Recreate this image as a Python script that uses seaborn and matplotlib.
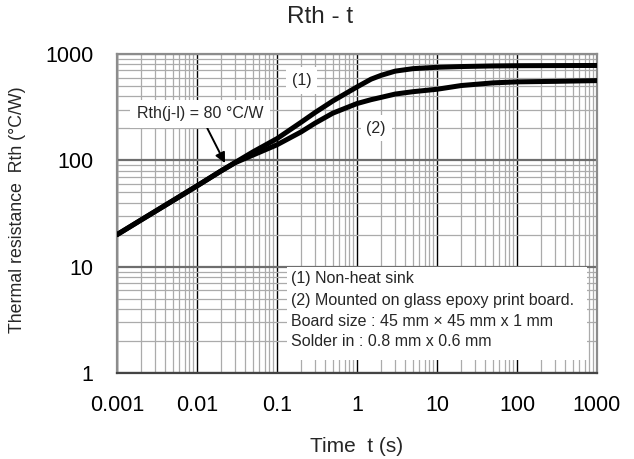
import numpy as np
import pandas as pd
import matplotlib
matplotlib.use("Agg")
import matplotlib.pyplot as plt
import seaborn as sns
from matplotlib.ticker import LogLocator, FixedLocator, FixedFormatter, NullFormatter

# values
time_s = [0.001, 0.002, 0.005, 0.01, 0.02, 0.03, 0.05, 0.1, 0.2, 0.3, 0.5,
          1, 1.5, 2, 3, 5, 10, 20, 50, 100, 300, 1000]
rth_non_heat_sink = [20, 27.5, 41.8, 57.5, 79.5, 95.5, 120, 160, 228, 282, 362,
                     490, 580, 630, 690, 728, 750, 762, 772, 776, 778, 780]
rth_glass_epoxy = [20, 27.5, 41.8, 57.5, 79.5, 95, 112, 140, 185, 224, 278,
                   342, 372, 391, 420, 442, 466, 505, 535, 547, 553, 562]

x_ticks = [0.001, 0.01, 0.1, 1, 10, 100, 1000]
x_labels = ["0.001", "0.01", "0.1", "1", "10", "100", "1000"]
y_ticks = [1, 10, 100, 1000]
y_labels = ["1", "10", "100", "1000"]

legend_lines = ["(1) Non-heat sink",
                "(2) Mounted on glass epoxy print board.",
                "Board size : 45 mm \u00d7 45 mm x 1 mm",
                "Solder in : 0.8 mm x 0.6 mm"]

df = pd.concat([
    pd.DataFrame({"t": time_s, "rth": rth_non_heat_sink, "curve": "(1)"}),
    pd.DataFrame({"t": time_s, "rth": rth_glass_epoxy, "curve": "(2)"}),
])

sns.set_style("white")
plt.rcParams["font.family"] = ["Liberation Sans", "DejaVu Sans"]

fig = plt.figure(figsize=(6.34, 4.59), dpi=100)
ax = fig.add_axes([117 / 634, 1 - 373 / 459, 480 / 634, 319 / 459])

sns.lineplot(data=df, x="t", y="rth", hue="curve", palette=["black", "black"],
             linewidth=3.6, legend=False, ax=ax, zorder=4)

ax.set_xscale("log")
ax.set_yscale("log")
ax.set_xlim(0.001, 1000)
ax.set_ylim(1, 1000)

ax.xaxis.set_major_locator(FixedLocator(x_ticks))
ax.xaxis.set_major_formatter(FixedFormatter(x_labels))
ax.yaxis.set_major_locator(FixedLocator(y_ticks))
ax.yaxis.set_major_formatter(FixedFormatter(y_labels))
ax.xaxis.set_minor_locator(LogLocator(base=10, subs=np.arange(2, 10)))
ax.yaxis.set_minor_locator(LogLocator(base=10, subs=np.arange(2, 10)))
ax.xaxis.set_minor_formatter(NullFormatter())
ax.yaxis.set_minor_formatter(NullFormatter())

ax.set_axisbelow(True)
ax.grid(which="minor", axis="both", color="#ababab", linewidth=0.9)
ax.grid(which="major", axis="x", color="black", linewidth=1.0)
ax.grid(which="major", axis="y", color="#6e6e6e", linewidth=1.6)

for side in ["left", "right", "top", "bottom"]:
    ax.spines[side].set_color("#8c8c8c")
    ax.spines[side].set_linewidth(1.6)
ax.spines["bottom"].set_color("#444444")

ax.tick_params(which="both", length=0, labelsize=15.5, colors="black")
ax.tick_params(axis="x", pad=16)
ax.tick_params(axis="y", pad=17)

ax.set_xlabel("Time  t (s)", fontsize=15)
ax.set_ylabel("Thermal resistance  Rth (\u00b0C/W)", fontsize=12.8)
ax.xaxis.set_label_coords(0.5, -0.2)
ax.yaxis.set_label_coords(-0.19, 0.511)
ax.text(0.423, 1.117, "Rth - t", transform=ax.transAxes, ha="center",
        va="center", fontsize=17.5)

box = dict(facecolor="white", edgecolor="none", pad=4)
ax.text(0.385, 0.917, "(1)", transform=ax.transAxes, ha="center", va="center",
        fontsize=11.5, bbox=box, zorder=3)
ax.text(0.54, 0.768, "(2)", transform=ax.transAxes, ha="center", va="center",
        fontsize=11.5, bbox=box, zorder=3)

ax.annotate("Rth(j-l) = 80 \u00b0C/W", xy=(0.225, 0.658), xycoords="axes fraction",
            xytext=(0.173, 0.812), textcoords="axes fraction",
            ha="center", va="center", fontsize=11.5,
            bbox=dict(facecolor="white", edgecolor="none", pad=5),
            arrowprops=dict(arrowstyle="-|>", color="black", lw=1.4,
                            mutation_scale=15, shrinkA=0, shrinkB=0),
            zorder=5)

ax.add_patch(plt.Rectangle((170 / 480, 13 / 319), 300 / 480, 93 / 319,
                           transform=ax.transAxes, facecolor="white",
                           edgecolor="none", zorder=3))
for i, line in enumerate(legend_lines):
    ax.text(174 / 480, (94 - i * 21) / 319, line, transform=ax.transAxes,
            ha="left", va="center", fontsize=11.5, zorder=4)

fig.savefig("out.png", dpi=100)
